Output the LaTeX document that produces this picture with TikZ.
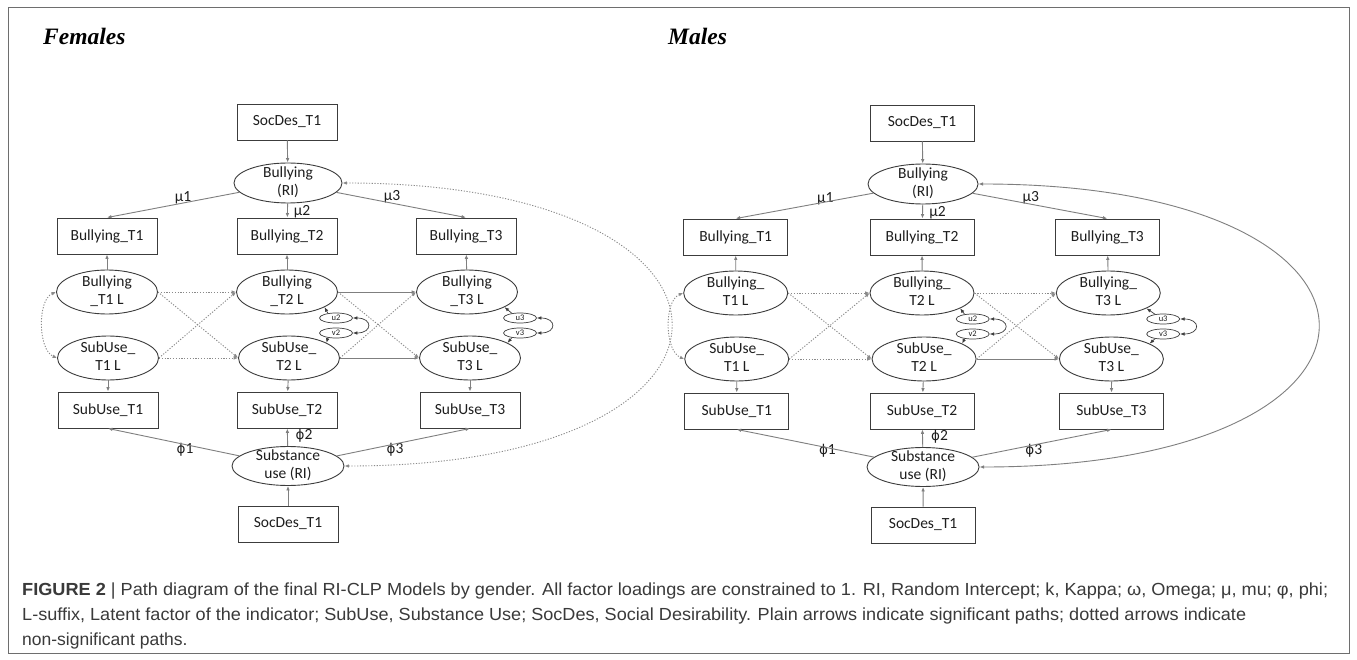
\documentclass[tikz,border=0pt]{standalone}
\usepackage{fontspec}
\usepackage{graphicx}
\setmainfont{Carlito}
\newfontfamily\titlefont{Liberation Serif}
\newfontfamily\capfont{Liberation Sans}
\newfontfamily\phifont{DejaVu Sans}
\usetikzlibrary{shapes.geometric,arrows.meta}
\definecolor{boxc}{HTML}{3C3C3C}
\definecolor{linec}{HTML}{7F7F7F}
\definecolor{dotc}{HTML}{8A8A8A}
\definecolor{txtc}{HTML}{1E1E1E}
\definecolor{capc}{HTML}{3A3A3A}
\definecolor{framec}{HTML}{6E6E6E}
\newcommand\twol[2]{\makebox[0pt][c]{\raisebox{-0.25em}[0pt][0pt]{\begin{tabular}{@{}c@{}}#1\\#2\end{tabular}}}}
\newcommand\BLf[1]{\twol{Bullying}{\_T#1 L}}
\newcommand\BLm[1]{\twol{Bullying\_}{T#1 L}}
\newcommand\myphi{{\phifont\fontsize{13.5}{16}\selectfont ϕ}}
\newcommand\rimodel{%
  \node[box] (sdT) at (287,122) {SocDes\_T1};
  \node[riE] (bri) at (288,183) {\twol{Bullying}{(RI)}};
  \node[box] (b1) at (107,236) {Bullying\_T1};
  \node[box] (b2) at (287,236) {Bullying\_T2};
  \node[box] (b3) at (466,236) {Bullying\_T3};
  \node[lat] (b1L) at (107,292) {\BL{1}};
  \node[lat] (b2L) at (287,292) {\BL{2}};
  \node[lat] (b3L) at (467,292) {\BL{3}};
  \node[uv] (u2) at (336,318) {u2};
  \node[uv] (v2) at (336,333) {v2};
  \node[uv] (u3) at (520,318) {u3};
  \node[uv] (v3) at (520,333) {v3};
  \node[lat] (s1L) at (108,358) {\twol{SubUse\_}{T1 L}};
  \node[lat] (s2L) at (289,358) {\twol{SubUse\_}{T2 L}};
  \node[lat] (s3L) at (470,358) {\twol{SubUse\_}{T3 L}};
  \node[box] (s1) at (108,410) {SubUse\_T1};
  \node[box] (s2) at (287,410) {SubUse\_T2};
  \node[box] (s3) at (470,410) {SubUse\_T3};
  \node[subE] (sri) at (288,466) {\twol{Substance}{use (RI)}};
  \node[box] (sdB) at (288,524) {SocDes\_T1};
  \node[lab,l1] (mu1) at (183,198) {μ1};
  \node[lab] (mu2) at (302,212) {μ2};
  \node[lab] (mu3) at (392,197) {μ3};
  \node[lab,l1] (ph1) at (185,450) {\myphi1};
  \node[lab] (ph2) at (304,436) {\myphi2};
  \node[lab] (ph3) at (395,450) {\myphi3};
  \draw[arr] (sdT) -- (bri);
  \draw[arr] (bri) -- (b1.north);
  \draw[arr] (bri) -- (b2);
  \draw[arr] (bri) -- (b3.north);
  \draw[arr] (b1L) -- (b1);
  \draw[arr] (b2L) -- (b2);
  \draw[arr] (b3L) -- (b3);
  \draw[arr] (s1L) -- (s1);
  \draw[arr] (s2L) -- (s2);
  \draw[arr] (s3L) -- (s3);
  \draw[arr] (sri) -- (s1.south);
  \draw[arr] (sri) -- (s2);
  \draw[arr] (sri) -- (s3.south);
  \draw[arr] (sdB) -- (sri);
  \draw[darr] (b1L.east) -- (b2L.west);
  \draw[darr] (b1L.east) -- (s2L.west);
  \draw[darr] (s1L.east) -- (b2L.west);
  \draw[darr] (s1L.east) -- (s2L.west);
  \draw[sigBB] (b2L.east) -- (b3L.west);
  \draw[darr] (b2L.east) -- (s3L.west);
  \draw[darr] (s2L.east) -- (b3L.west);
  \draw[arr] (s2L.east) -- (s3L.west);
  \draw[darr,<->] (b1L.west) .. controls +(-19,8) and +(-19,-8) .. (s1L.west);
  \draw[uvarr] (u2.150) -- (b2L.-22);
  \draw[uvarr] (v2.210) -- (s2L.22);
  \draw[uvarr,<->] (u2.east) .. controls +(20,0) and +(20,0) .. (v2.east);
  \draw[uvarr] (u3.150) -- (b3L.-22);
  \draw[uvarr] (v3.210) -- (s3L.22);
  \draw[uvarr,<->] (u3.east) .. controls +(20,0) and +(20,0) .. (v3.east);
  \draw[big] (bri.east) .. controls +(437,0) and +(437,0) .. (sri.east);
}
\tikzset{
  >={Latex[length=4.5pt,width=3.6pt]},
  txtfont/.style={font=\fontsize{15.5}{18}\selectfont, text=txtc},
  box/.style={draw=boxc, line width=0.9pt, minimum width=100pt, minimum height=36pt, inner sep=0pt, txtfont},
  ell/.style={ellipse, draw=boxc, line width=0.9pt, inner sep=0pt, txtfont},
  lat/.style={ell, minimum width=101pt, minimum height=44pt},
  riE/.style={ell, minimum width=108pt, minimum height=40pt},
  subE/.style={ell, minimum width=112pt, minimum height=39pt},
  uv/.style={ellipse, draw=boxc, line width=0.7pt, minimum width=33pt, minimum height=10pt, inner sep=0pt, font=\fontsize{8.5}{9}\selectfont, text=txtc},
  lab/.style={inner sep=0pt, txtfont},
  l1/.style={},
  arr/.style={draw=linec, line width=0.9pt, ->},
  darr/.style={draw=dotc, line width=0.9pt, dash pattern=on 1.2pt off 1.6pt, ->},
  uvarr/.style={draw=boxc, line width=0.7pt, ->},
  captext/.style={inner sep=0pt, font=\capfont\fontsize{17.5}{25}\selectfont, text=capc},
  title/.style={anchor=base west, inner sep=0pt, font=\titlefont\bfseries\itshape\fontsize{23.5}{26}\selectfont},
}
\begin{document}
\begin{tikzpicture}[x=1pt, y=-1pt]
  \useasboundingbox (0,0) rectangle (1357,660);
  \fill[white] (0,0) rectangle (1357,660);
  \draw[framec, line width=1pt] (8,8) rectangle (1349,653);
  \node[title] (tf) at (43,45) {Females};
  \node[title] (tm) at (668,45) {Males};
  \begin{scope}[name prefix=f-, sigBB/.style={arr}, big/.style={darr,<->}]
    \let\BL\BLf
    \rimodel
  \end{scope}
  \begin{scope}[name prefix=m-, xshift=922pt, yshift=-1pt, xscale=1.035, xshift=-287pt,
      sigBB/.style={darr}, big/.style={arr,<->}, l1/.style={xshift=11pt},
      box/.append style={minimum width=104pt}, lat/.append style={minimum width=104pt},
      riE/.append style={minimum width=110pt}, subE/.append style={minimum width=112pt}]
    \let\BL\BLm
    \rimodel
  \end{scope}
  \node[captext, anchor=base west] (c1) at (22,595) {\resizebox{1306pt}{\height}{\textbf{FIGURE 2} | Path diagram of the final RI-CLP Models by gender. All factor loadings are constrained to 1. RI, Random Intercept; k, Kappa; ω, Omega; μ, mu; φ, phi;}};
  \node[captext, anchor=base west] (c2) at (22,620) {\resizebox{1224pt}{\height}{L-suffix, Latent factor of the indicator; SubUse, Substance Use; SocDes, Social Desirability. Plain arrows indicate significant paths; dotted arrows indicate}};
  \node[captext, anchor=base west] (c3) at (22,645) {non-significant paths.};
\end{tikzpicture}
\end{document}
